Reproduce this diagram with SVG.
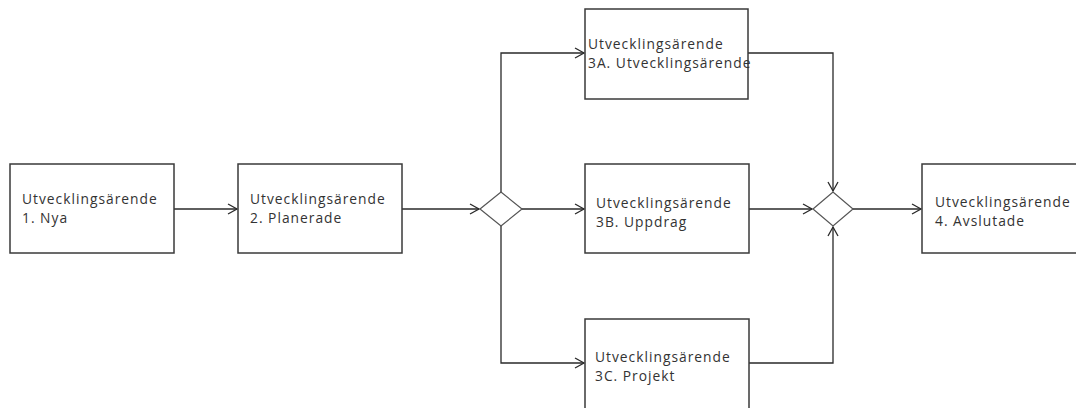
<svg xmlns="http://www.w3.org/2000/svg" width="1076" height="408" viewBox="0 0 1076 408">
<style>
.box{fill:#ffffff;stroke:#3a3a3a;stroke-width:1.5}
.dia{fill:#ffffff;stroke:#555555;stroke-width:1.2}
.lbl{font-family:"Open Sans","Liberation Sans",sans-serif;font-size:13.8px;letter-spacing:1px;fill:#333333}
.con{fill:none;stroke:#2a2a2a;stroke-width:1.3;marker-end:url(#arr)}
</style>
<defs>
<marker id="arr" markerWidth="12" markerHeight="12" refX="10" refY="6" orient="auto" markerUnits="userSpaceOnUse">
<path d="M1,1 L10,6 L1,11" fill="none" stroke="#2a2a2a" stroke-width="1.3"/>
</marker>
</defs>
<rect width="1076" height="408" fill="#ffffff"/>
<g id="connectors">
<path class="con" d="M174,209 H237"/>
<path class="con" d="M402,209 H479"/>
<path class="con" d="M522,209 H584"/>
<path class="con" d="M501,192 V53 H584"/>
<path class="con" d="M501,226 V363 H584"/>
<path class="con" d="M748,53 H833 V191"/>
<path class="con" d="M749,209 H812"/>
<path class="con" d="M749,363 H833 V227"/>
<path class="con" d="M853,209 H921"/>
</g>
<g id="n1">
<rect class="box" x="10" y="164" width="164" height="89"/>
<text class="lbl" x="22" y="204">Utvecklingsärende</text>
<text class="lbl" x="22" y="223">1. Nya</text>
</g>
<g id="n2">
<rect class="box" x="238" y="164" width="164" height="89"/>
<text class="lbl" x="250" y="204">Utvecklingsärende</text>
<text class="lbl" x="250" y="223">2. Planerade</text>
</g>
<g id="d1">
<polygon class="dia" points="480,209 501,192 522,209 501,226"/>
</g>
<g id="n3a">
<rect class="box" x="585" y="9" width="163" height="90"/>
<text class="lbl" x="588" y="49">Utvecklingsärende</text>
<text class="lbl" x="588" y="68">3A. Utvecklingsärende</text>
</g>
<g id="n3b">
<rect class="box" x="585" y="164" width="164" height="89"/>
<text class="lbl" x="596" y="208">Utvecklingsärende</text>
<text class="lbl" x="596" y="227">3B. Uppdrag</text>
</g>
<g id="n3c">
<rect class="box" x="585" y="319" width="164" height="100"/>
<text class="lbl" x="595" y="362">Utvecklingsärende</text>
<text class="lbl" x="595" y="381">3C. Projekt</text>
</g>
<g id="d2">
<polygon class="dia" points="813,209 833,192 853,209 833,226"/>
</g>
<g id="n4">
<rect class="box" x="922" y="164" width="164" height="89"/>
<text class="lbl" x="935" y="207">Utvecklingsärende</text>
<text class="lbl" x="935" y="226">4. Avslutade</text>
</g>
</svg>
